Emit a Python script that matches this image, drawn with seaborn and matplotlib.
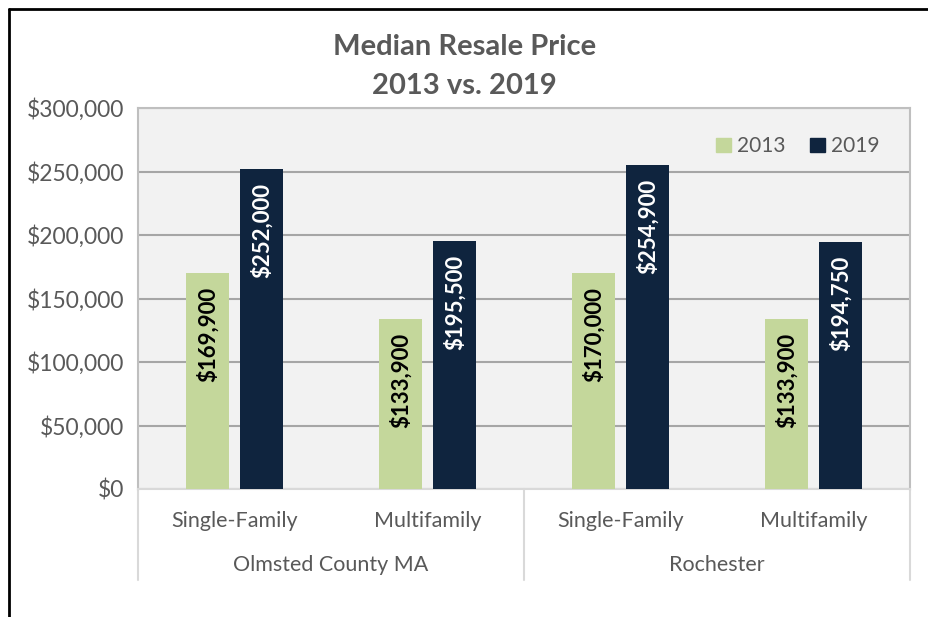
import pandas as pd
import numpy as np
import seaborn as sns
import matplotlib.pyplot as plt
from matplotlib.lines import Line2D
from matplotlib.ticker import FuncFormatter

# data
regions = ['Olmsted County MA', 'Olmsted County MA', 'Rochester', 'Rochester']
home_types = ['Single-Family', 'Multifamily', 'Single-Family', 'Multifamily']
price_2013 = [169900, 133900, 170000, 133900]
price_2019 = [252000, 195500, 254900, 194750]
years = ['2013', '2019']

rows = []
for r, t, a, b in zip(regions, home_types, price_2013, price_2019):
    key = r + '|' + t
    rows.append({'cat': key, 'year': '2013', 'price': a})
    rows.append({'cat': key, 'year': '2019', 'price': b})
df = pd.DataFrame(rows)
order = [r + '|' + t for r, t in zip(regions, home_types)]

sns.set_theme(style='white')
plt.rcParams['font.family'] = ['Lato', 'DejaVu Sans']
txt_color = '#595959'

fig = plt.figure(figsize=(9.29, 6.17), dpi=100)
ax = fig.add_axes([138/929, 1-489/617, (910-138)/929, (489-108)/617])
ax.set_facecolor('#F2F2F2')

palette = {'2013': '#C4D79B', '2019': '#0F243E'}
sns.barplot(data=df, x='cat', y='price', hue='year', order=order, hue_order=years,
            palette=palette, width=0.56, gap=0.22, saturation=1, linewidth=0,
            edgecolor='none', ax=ax, zorder=3)

ax.set_xlim(-0.5, 3.5)
ax.set_ylim(0, 300000)
ax.set_yticks(np.arange(0, 300001, 50000))
ax.yaxis.set_major_formatter(FuncFormatter(lambda v, p: '${:,.0f}'.format(v)))
ax.grid(axis='y', color='#A6A6A6', linewidth=1.5, zorder=0)
ax.set_axisbelow(True)
ax.set_xlabel('')
ax.set_ylabel('')
ax.set_xticks(range(len(order)))
ax.set_xticklabels(home_types)
ax.tick_params(axis='x', length=0, pad=16, labelsize=15.5, labelcolor=txt_color)
ax.tick_params(axis='y', length=0, pad=10, labelsize=16.5, labelcolor=txt_color)
for s in ax.spines.values():
    s.set_color('#BFBFBF')
    s.set_linewidth(1.5)
ax.spines['bottom'].set_color('#D9D9D9')

# value labels inside the bars
label_colors = ['black', 'white']
for cont, c in zip(ax.containers, label_colors):
    for bar in cont:
        h = bar.get_height()
        ax.annotate('${:,.0f}'.format(h), (bar.get_x() + bar.get_width() / 2, h),
                    xytext=(0, -10), textcoords='offset points', rotation=90,
                    ha='center', va='top', color=c, fontsize=16, fontweight='bold', zorder=4)

# legend
handles = [plt.Rectangle((0, 0), 1, 1, color=palette[y]) for y in years]
ax.legend(handles, years, loc='upper right', bbox_to_anchor=(0.985, 0.975), ncol=2, frameon=False,
          fontsize=15, labelcolor=txt_color, handlelength=0.7, handleheight=0.7,
          handletextpad=0.3, columnspacing=1.2)

# second level category axis
trans = ax.get_xaxis_transform()
for xpos in [-0.5, 1.5, 3.5]:
    ax.plot([xpos, xpos], [0, -0.24], transform=trans, color='#D9D9D9', lw=1.5, clip_on=False)
for i, name in enumerate(['Olmsted County MA', 'Rochester']):
    ax.text(2 * i + 0.5, -0.2, name, transform=trans, ha='center', va='center',
            fontsize=15.5, color=txt_color)

fig.suptitle('Median Resale Price\n2013 vs. 2019', x=0.5, y=0.945, fontsize=21,
             fontweight='bold', color=txt_color, linespacing=1.6)

# screenshot frame
fig.add_artist(Line2D([9/929, 9/929], [0, 1-9/617], color='black', lw=2))
fig.add_artist(Line2D([9/929, 1], [1-9/617, 1-9/617], color='black', lw=2))

plt.savefig('out.png', dpi=100)
